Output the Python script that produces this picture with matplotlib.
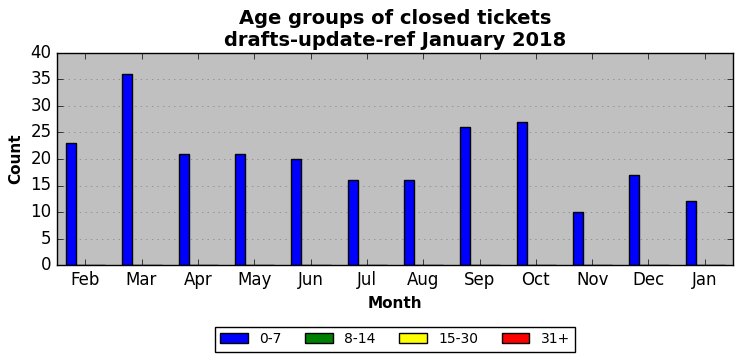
import numpy as np
import matplotlib
matplotlib.use('Agg')
import matplotlib.pyplot as plt

plt.style.use('classic')

months = ['Feb', 'Mar', 'Apr', 'May', 'Jun', 'Jul', 'Aug', 'Sep', 'Oct', 'Nov', 'Dec', 'Jan']
age_0_7 = [23, 36, 21, 21, 20, 16, 16, 26, 27, 10, 17, 12]
age_8_14 = [0] * 12
age_15_30 = [0] * 12
age_31 = [0] * 12

series = [('0-7', age_0_7, 'blue'), ('8-14', age_8_14, 'green'),
          ('15-30', age_15_30, 'yellow'), ('31+', age_31, 'red')]

fig = plt.figure(figsize=(7.42, 3.61), dpi=100)
fig.patch.set_facecolor('white')
ax = fig.add_axes([57 / 742, 1 - 265 / 361, 676 / 742, 212 / 361])
ax.set_facecolor('#c0c0c0')

x = np.arange(len(months))
w = 0.175
for i, (name, vals, col) in enumerate(series):
    ax.bar(x + (i - 1.5) * w + 0.01, vals, w, color=col, edgecolor='black', label=name, align='center')

ax.set_xlim(-0.5, 11.5)
ax.set_ylim(0, 40)
ax.set_yticks(range(0, 41, 5))
ax.set_xticks(x)
ax.set_xticklabels(months)
ax.tick_params(labelsize=12)
ax.yaxis.grid(True, linestyle=':', color='gray')
ax.set_axisbelow(True)

ax.set_xlabel('Month', fontsize=11, fontweight='bold')
ax.set_ylabel('Count', fontsize=11, fontweight='bold')
ax.set_title('Age groups of closed tickets\ndrafts-update-ref January 2018',
             fontsize=14, fontweight='bold')

ax.legend(loc='center', bbox_to_anchor=(0.5, -0.35), ncol=4, fontsize=10,
          frameon=True, columnspacing=1.7)

plt.savefig('out.png', dpi=100)
